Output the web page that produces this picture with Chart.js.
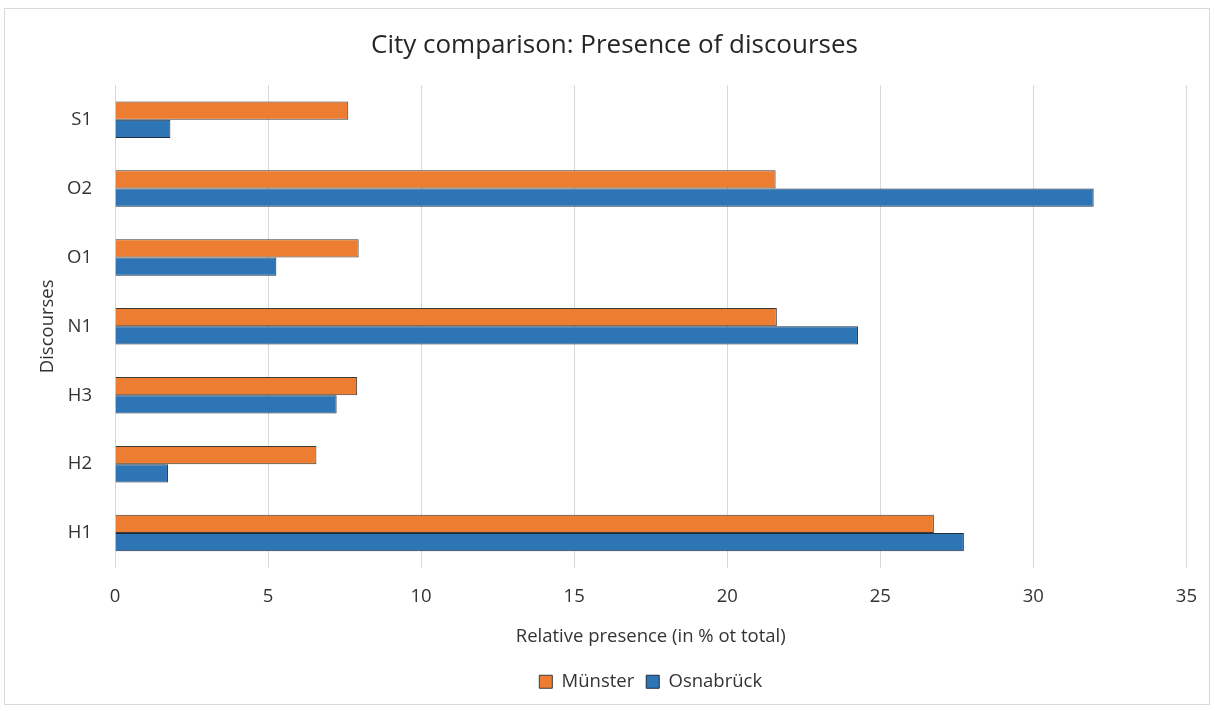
<!DOCTYPE html>
<html>
<head>
<meta charset="utf-8">
<script src="https://cdn.jsdelivr.net/npm/chart.js@4"></script>
<style>
  body { margin: 0; background: #fff; }
  canvas { display: block; }
</style>
</head>
<body>
<canvas id="cityChart" width="1215" height="711"></canvas>
<script>
const discourses = ["S1", "O2", "O1", "N1", "H3", "H2", "H1"];
const muenster = [7.62, 21.58, 7.96, 21.62, 7.91, 6.58, 26.75];
const osnabrueck = [1.81, 31.97, 5.27, 24.27, 7.24, 1.73, 27.73];
const xTicks = [0, 5, 10, 15, 20, 25, 30, 35];

const textColor = "#333";
const fontFamily = "'Open Sans', Lato, sans-serif";
const labelFont = { family: fontFamily, size: 18.5 };

// light frame around the whole chart
const framePlugin = {
  id: "frame",
  beforeDraw(chart) {
    const c = chart.ctx;
    c.save();
    c.fillStyle = "#fff";
    c.fillRect(0, 0, chart.width, chart.height);
    c.strokeStyle = "#d9d9d9";
    c.lineWidth = 1;
    c.strokeRect(4.5, 8.5, 1205, 696);
    c.restore();
  }
};

const ctx = document.getElementById("cityChart").getContext("2d");

const chart = new Chart(ctx, {
  type: "bar",
  data: {
    labels: discourses,
    datasets: [
      {
        label: "Münster",
        data: muenster,
        backgroundColor: "#ED7D31",
        borderColor: "#3a3a3a",
        borderWidth: 1,
      },
      {
        label: "Osnabrück",
        data: osnabrueck,
        backgroundColor: "#2E75B6",
        borderColor: "#1f2d3d",
        borderWidth: 1,
      },
    ],
  },
  options: {
    indexAxis: "y",
    responsive: false,
    animation: false,
    devicePixelRatio: 1,
    barPercentage: 1,
    categoryPercentage: 0.53,
    layout: {
      padding: { left: 42, right: 28, top: 0, bottom: 10 },
    },
    scales: {
      x: {
        min: 0,
        max: 35,
        afterBuildTicks(scale) {
          scale.ticks = xTicks.map(v => ({ value: v }));
        },
        afterFit(scale) {
          scale.height = 93;
        },
        grid: {
          color: "#d9d9d9",
          drawTicks: false,
        },
        border: { display: false },
        ticks: {
          color: textColor,
          padding: 18,
          font: labelFont,
        },
        title: {
          display: true,
          text: "Relative presence (in % ot total)",
          color: textColor,
          font: labelFont,
          padding: { top: 0, bottom: 13 },
        },
      },
      y: {
        afterFit(scale) {
          scale.width = 73;
        },
        grid: { display: false, drawTicks: false },
        border: { display: false },
        ticks: {
          color: textColor,
          padding: 23,
          font: labelFont,
        },
        title: {
          display: true,
          text: "Discourses",
          color: textColor,
          font: labelFont,
          padding: { top: -5.5, bottom: 0 },
        },
      },
    },
    plugins: {
      title: {
        display: true,
        text: "City comparison: Presence of discourses",
        color: "#262626",
        font: { family: fontFamily, size: 26, weight: "normal" },
        padding: { top: 30, bottom: 24 },
      },
      legend: {
        position: "bottom",
        fullSize: false,
        labels: {
          color: textColor,
          boxWidth: 13,
          boxHeight: 13,
          padding: 12,
          font: labelFont,
        },
      },
      tooltip: { enabled: false },
    },
  },
  plugins: [framePlugin],
});
</script>
</body>
</html>
